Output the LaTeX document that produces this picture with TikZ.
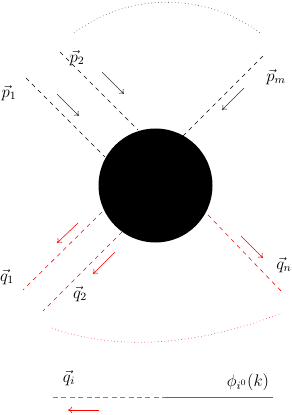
\documentclass[tikz,border=0pt]{standalone}
\usetikzlibrary{arrows.meta}
\begin{document}
\begin{tikzpicture}[x=0.714pt,y=-0.714pt,
  inline/.style={thin,dash pattern=on 3pt off 3pt},
  outline/.style={thin,red,dash pattern=on 3pt off 3pt},
  mom/.style={thin,black!80,-{To[length=3pt,width=4.5pt]}},
  momred/.style={thin,red,-{To[length=3pt,width=4.5pt]}},
  lab/.style={inner sep=0pt,font=\fontsize{11.5}{14}\selectfont}]
\useasboundingbox (0,0) rectangle (291,415);
% blob
\node (blob) [circle,fill=black,inner sep=0pt,minimum size=81.4pt] at (155.5,185.5) {};
% incoming lines
\coordinate (a1) at (26,78);  \coordinate (b1) at (105,157);
\coordinate (a2) at (60,52);  \coordinate (b2) at (138,130);
\coordinate (am) at (263,56); \coordinate (bm) at (183,136);
\draw[inline] (a1) -- (b1);
\draw[inline] (a2) -- (b2);
\draw[inline] (am) -- (bm);
% incoming arrows
\coordinate (s1) at (57,94);   \coordinate (e1) at (79,116);
\coordinate (s2) at (102,72);  \coordinate (e2) at (124,94);
\coordinate (sm) at (244,88);  \coordinate (em) at (222,110);
\draw[mom] (s1) -- (e1);
\draw[mom] (s2) -- (e2);
\draw[mom] (sm) -- (em);
% labels
\node[lab] (lp1) at (9,93) {$\vec{p}_1$};
\node[lab] (lp2) at (77,58) {$\vec{p}_2$};
\node[lab] (lpm) at (276,77) {$\vec{p}_m$};
% top dotted arc
\coordinate (ta) at (74,33); \coordinate (tb) at (260,33);
\draw[thin,dotted,black!80] (ta) .. controls (129,-8) and (205,-8) .. (tb);
% outgoing lines
\coordinate (c1) at (102,212); \coordinate (d1) at (23,290);
\coordinate (c2) at (122,232); \coordinate (d2) at (43,311);
\coordinate (cn) at (208,215); \coordinate (dn) at (283,293);
\draw[outline] (c1) -- (d1);
\draw[outline] (c2) -- (d2);
\draw[outline] (cn) -- (dn);
% outgoing arrows
\coordinate (u1) at (78,223);  \coordinate (v1) at (57,243);
\coordinate (u2) at (115,252); \coordinate (v2) at (93,274);
\coordinate (un) at (241,236); \coordinate (vn) at (263,258);
\draw[momred] (u1) -- (v1);
\draw[momred] (u2) -- (v2);
\draw[momred] (un) -- (vn);
\node[lab] (lq1) at (7,277) {$\vec{q}_1$};
\node[lab] (lq2) at (80,294) {$\vec{q}_2$};
\node[lab] (lqn) at (284,265) {$\vec{q}_n$};
% bottom dotted arc
\coordinate (ba) at (52,328); \coordinate (bb) at (282,313);
\draw[thin,dotted,red] (ba) .. controls (120,352) and (200,345) .. (bb);
% legend
\coordinate (g1) at (53,397); \coordinate (g2) at (165,397); \coordinate (g3) at (273,397);
\draw[red!70,line width=0.6pt,dash pattern=on 3.5pt off 2.5pt] (g1) -- (g2);
\draw[thin,black!60] (g2) -- (g3);
\coordinate (ra) at (99,410); \coordinate (rb) at (68,410);
\draw[momred] (ra) -- (rb);
\node[lab] (lqi) at (69,378) {$\vec{q}_i$};
\node[lab] (lphi) at (248,382) {$\phi_{i^0}(k)$};
\end{tikzpicture}
\end{document}
